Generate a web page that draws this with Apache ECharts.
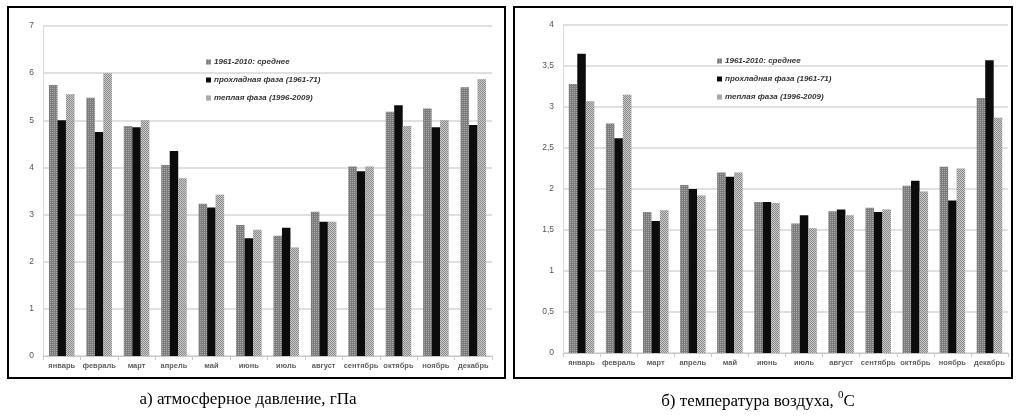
<!DOCTYPE html>
<html>
<head>
<meta charset="utf-8">
<script src="https://cdn.jsdelivr.net/npm/echarts@6/dist/echarts.min.js"></script>
<style>
  html, body { margin: 0; padding: 0; background: #fff; }
  #main { width: 1016px; height: 420px; }
</style>
</head>
<body>
<div id="main"></div>
<script>
var myChart = echarts.init(document.getElementById('main'));

// месяцы
var months = ['январь', 'февраль', 'март', 'апрель', 'май', 'июнь', 'июль', 'август', 'сентябрь', 'октябрь', 'ноябрь', 'декабрь'];
var names = ['1961-2010: среднее', 'прохладная фаза (1961-71)', 'теплая фаза (1996-2009)'];

// а) атмосферное давление
var pressMean = [5.75, 5.48, 4.88, 4.05, 3.23, 2.78, 2.55, 3.06, 4.02, 5.18, 5.25, 5.70];
var pressCool = [5.00, 4.75, 4.85, 4.35, 3.15, 2.50, 2.72, 2.85, 3.92, 5.32, 4.85, 4.90];
var pressWarm = [5.55, 6.00, 5.00, 3.77, 3.42, 2.68, 2.30, 2.85, 4.02, 4.88, 5.00, 5.87];

// б) температура воздуха
var tempMean = [3.28, 2.80, 1.72, 2.05, 2.20, 1.84, 1.58, 1.73, 1.77, 2.04, 2.27, 3.11];
var tempCool = [3.65, 2.62, 1.61, 2.00, 2.15, 1.84, 1.68, 1.75, 1.72, 2.10, 1.86, 3.57];
var tempWarm = [3.07, 3.15, 1.74, 1.92, 2.20, 1.83, 1.52, 1.68, 1.75, 1.97, 2.25, 2.87];

var dotDecal = {
    symbol: 'rect', symbolSize: 1, color: 'rgba(255,255,255,0.35)',
    dashArrayX: [1, 1], dashArrayY: [1, 1], rotation: 0
};
var checkDecal = {
    symbol: 'rect', symbolSize: 1, color: 'rgba(255,255,255,0.55)',
    dashArrayX: [[1, 1], [0, 1, 1, 0]], dashArrayY: [1, 0], rotation: 0
};
var noDecal = {
    symbol: 'rect', symbolSize: 1, color: 'rgba(0,0,0,0)',
    dashArrayX: [1, 0], dashArrayY: [1, 0], rotation: 0
};

var styles = [
    { color: '#7c7c7c', decal: dotDecal },
    { color: '#0c0c0c', decal: noDecal },
    { color: '#8a8a8a', decal: checkDecal }
];

function xAxisFor(idx) {
    return {
        type: 'category', gridIndex: idx, data: months,
        axisLine: { lineStyle: { color: '#c8c8c8' } },
        axisTick: { show: true, length: 4, lineStyle: { color: '#c8c8c8' } },
        axisLabel: { fontSize: 7.5, fontWeight: 'bold', color: '#5e5e5e', interval: 0, margin: 6 }
    };
}

function yAxisFor(idx, max, interval, comma) {
    return {
        type: 'value', gridIndex: idx, min: 0, max: max, interval: interval,
        axisLine: { show: true, lineStyle: { color: '#d8d8d8' } },
        axisTick: { show: false },
        splitLine: { lineStyle: { color: '#d6d6d6', width: 1.5 } },
        axisLabel: {
            fontSize: 8.5, color: '#555', margin: 9,
            formatter: function (v) { return comma ? String(v).replace('.', ',') : String(v); }
        }
    };
}

function barsFor(idx, arrs) {
    return arrs.map(function (d, i) {
        return {
            name: names[i], type: 'bar', xAxisIndex: idx, yAxisIndex: idx,
            data: d, barWidth: 8.5, barGap: '0%',
            itemStyle: styles[i]
        };
    });
}

function legendFor(left, top) {
    return {
        orient: 'vertical', left: left, top: top, data: names,
        icon: 'rect', itemWidth: 5, itemHeight: 5, itemGap: 10,
        selectedMode: false,
        textStyle: { fontSize: 8, fontStyle: 'italic', fontWeight: 'bold', color: '#333', padding: [0, 0, 0, -2] }
    };
}

var captionFont = '17px "Liberation Serif", "DejaVu Serif", serif';

myChart.setOption({
    aria: { enabled: true, decal: { show: true } },
    animation: false,
    legend: [legendFor(201, 53), legendFor(712, 52)],
    grid: [
        { left: 43, right: 524, top: 26, bottom: 64 },
        { left: 563, right: 8, top: 25, bottom: 67 }
    ],
    xAxis: [xAxisFor(0), xAxisFor(1)],
    yAxis: [yAxisFor(0, 7, 1, false), yAxisFor(1, 4, 0.5, true)],
    series: barsFor(0, [pressMean, pressCool, pressWarm]).concat(barsFor(1, [tempMean, tempCool, tempWarm])),
    graphic: [
        { type: 'rect', shape: { x: 8, y: 7, width: 497, height: 371 }, style: { fill: 'none', stroke: '#000', lineWidth: 2 }, silent: true },
        { type: 'rect', shape: { x: 514, y: 7, width: 498, height: 371 }, style: { fill: 'none', stroke: '#000', lineWidth: 2 }, silent: true },
        {
            type: 'text', x: 248, y: 400,
            style: { text: 'а) атмосферное давление, гПа', font: captionFont, fill: '#000', align: 'center', verticalAlign: 'middle' }
        },
        {
            type: 'text', x: 758, y: 400,
            style: {
                text: '{a|б) температура воздуха, }{s|0}{a|C}',
                align: 'center', verticalAlign: 'middle',
                rich: {
                    a: { font: captionFont, fill: '#000', lineHeight: 20, verticalAlign: 'bottom' },
                    s: { font: '11px "Liberation Serif", serif', fill: '#000', lineHeight: 20, verticalAlign: 'top' }
                }
            }
        }
    ]
});
</script>
</body>
</html>
